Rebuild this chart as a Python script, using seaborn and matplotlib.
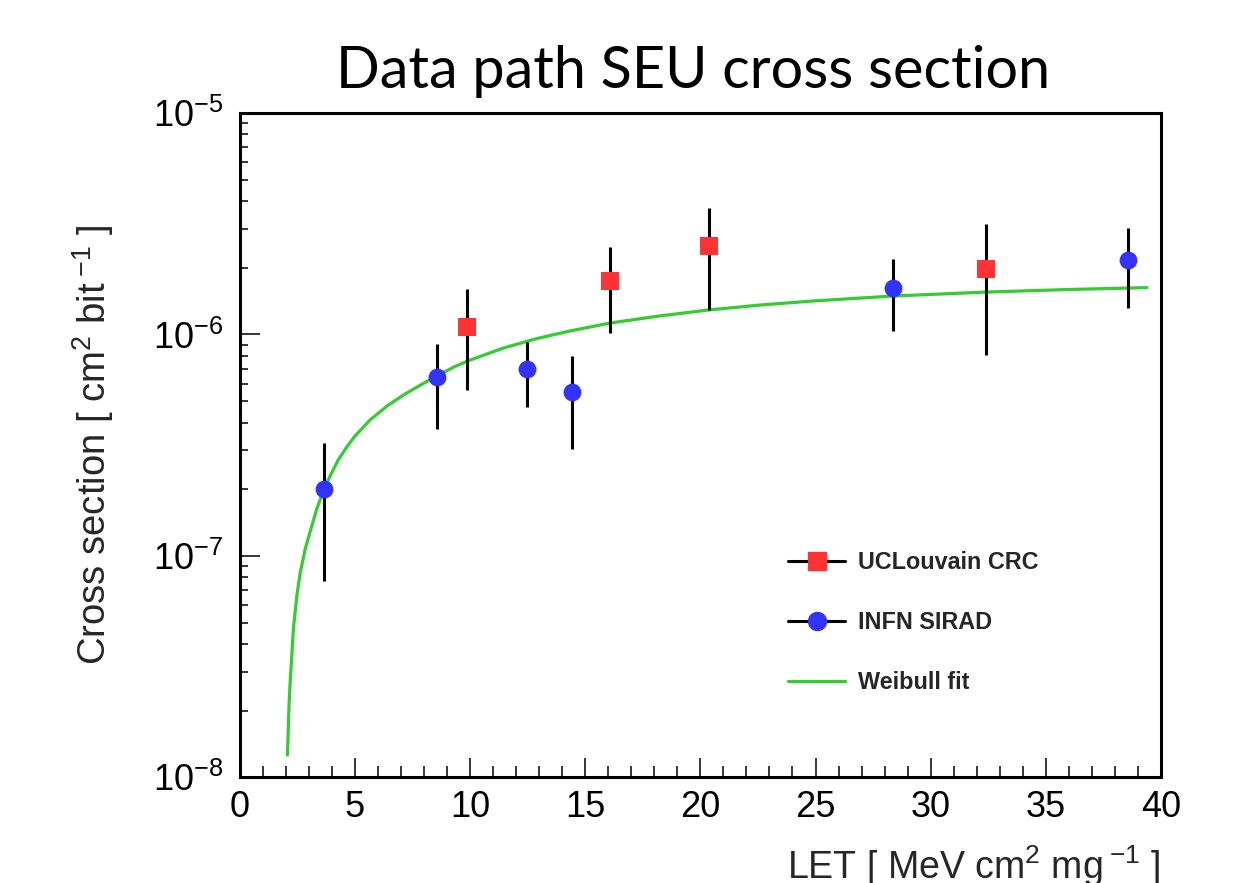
import numpy as np
import pandas as pd
import matplotlib
matplotlib.use("Agg")
import matplotlib.pyplot as plt
import seaborn as sns
from matplotlib.lines import Line2D
from matplotlib.ticker import LogLocator, MultipleLocator, NullFormatter, FixedLocator

# ---------------- data ----------------
ucl_let = [9.89, 16.08, 20.39, 32.40]
ucl_xs = [1.08e-6, 1.75e-6, 2.52e-6, 1.97e-6]
ucl_lo = [5.6e-7, 1.01e-6, 1.29e-6, 8.07e-7]
ucl_hi = [1.60e-6, 2.47e-6, 3.74e-6, 3.15e-6]

infn_let = [3.67, 8.59, 12.49, 14.42, 28.38, 38.58]
infn_xs = [2.0e-7, 6.4e-7, 6.98e-7, 5.47e-7, 1.62e-6, 2.17e-6]
infn_lo = [7.7e-8, 3.73e-7, 4.72e-7, 3.03e-7, 1.04e-6, 1.32e-6]
infn_hi = [3.22e-7, 9.1e-7, 9.27e-7, 8.0e-7, 2.19e-6, 3.02e-6]

# points
fit_let = [2.08, 2.15, 2.19, 2.34, 2.48, 2.63, 2.85, 3.06, 3.35, 3.64, 3.95,
           4.28, 4.65, 5.01, 5.66, 6.4, 7.11, 7.85, 8.56, 9.3, 10.0, 11.45,
           12.9, 14.33, 16.08, 18.2, 20.33, 22.6, 24.88, 28.36, 32.44, 35.9, 39.39]
fit_xs = [1.26e-8, 2.14e-8, 2.61e-8, 4.72e-8, 6.52e-8, 8.36e-8, 1.073e-7,
          1.281e-7, 1.627e-7, 1.962e-7, 2.317e-7, 2.708e-7, 3.10e-7, 3.476e-7,
          4.105e-7, 4.748e-7, 5.323e-7, 5.906e-7, 6.49e-7, 7.126e-7, 7.66e-7,
          8.68e-7, 9.58e-7, 1.036e-6, 1.126e-6, 1.211e-6, 1.289e-6, 1.358e-6,
          1.416e-6, 1.491e-6, 1.554e-6, 1.595e-6, 1.628e-6]

series_labels = ["UCLouvain CRC", "INFN SIRAD", "Weibull fit"]
x_ticks = [0, 5, 10, 15, 20, 25, 30, 35, 40]

title_text = "Data path SEU cross section"
xlabel_text = r"LET [ MeV cm$^{2}$ mg$\,^{-1}$ ]"
ylabel_text = r"Cross section [ cm$^{2}$ bit$\,^{-1}$ ]"

# ---------------- style ----------------
sns.set_theme(style="ticks")
plt.rcParams["font.family"] = ["Liberation Sans", "DejaVu Sans"]
plt.rcParams["mathtext.default"] = "regular"
plt.rcParams["axes.unicode_minus"] = False

RED = "#ff3333"
BLUE = "#3333ff"
GREEN = "#33cc33"

fig = plt.figure(figsize=(12.45, 8.83), dpi=100)
fig.patch.set_facecolor("white")
ax = fig.add_axes([0.1924, 0.1197, 0.7402, 0.7523])
ax.set_facecolor("white")

# fit curve
fit_df = pd.DataFrame({"LET": fit_let, "xs": fit_xs})
sns.lineplot(data=fit_df, x="LET", y="xs", ax=ax, color=GREEN, lw=2.3,
             sort=False, zorder=2, legend=False)

# error bars
ax.vlines(ucl_let, ucl_lo, ucl_hi, color="black", lw=2.2, zorder=3)
ax.vlines(infn_let, infn_lo, infn_hi, color="black", lw=2.2, zorder=3)

# markers
ucl_df = pd.DataFrame({"LET": ucl_let, "xs": ucl_xs})
infn_df = pd.DataFrame({"LET": infn_let, "xs": infn_xs})
sns.scatterplot(data=ucl_df, x="LET", y="xs", ax=ax, marker="s", s=165,
                color=RED, edgecolor=RED, linewidth=0, zorder=4, legend=False)
sns.scatterplot(data=infn_df, x="LET", y="xs", ax=ax, marker="o", s=165,
                color=BLUE, edgecolor=BLUE, linewidth=0, zorder=4, legend=False)

ax.set_yscale("log")
ax.set_xlim(0, 40)
ax.set_ylim(1e-8, 1e-5)

ax.xaxis.set_major_locator(FixedLocator(x_ticks))
ax.xaxis.set_minor_locator(MultipleLocator(1))
ax.yaxis.set_major_locator(LogLocator(base=10, numticks=10))
ax.yaxis.set_minor_locator(LogLocator(base=10, subs=np.arange(2, 10), numticks=50))
ax.yaxis.set_minor_formatter(NullFormatter())

for sp in ax.spines.values():
    sp.set_visible(True)
    sp.set_linewidth(2.2)
    sp.set_color("black")

ax.tick_params(axis="both", which="both", direction="in", colors="black",
               top=False, right=False, width=1.1)
ax.tick_params(axis="x", which="major", length=13.7, pad=9.5, labelsize=26)
ax.tick_params(axis="x", which="minor", length=7.7)
ax.tick_params(axis="y", which="major", length=14.4, pad=12, labelsize=26)
ax.tick_params(axis="y", which="minor", length=6.0)

ax.set_xlabel(xlabel_text, fontsize=27, ha="right")
ax.xaxis.set_label_coords(1.0, -0.099)
ax.set_ylabel(ylabel_text, fontsize=27.5)
ax.yaxis.set_label_coords(-0.134, 0.5)

fig.text(693 / 1245, 1 - 88 / 883, title_text, ha="center", va="baseline",
         fontsize=41.5, family=["Lato", "DejaVu Sans"], color="black")

handles = [
    Line2D([], [], color="black", lw=2.2, marker="s", markersize=13,
           markerfacecolor=RED, markeredgecolor=RED),
    Line2D([], [], color="black", lw=2.2, marker="o", markersize=13,
           markerfacecolor=BLUE, markeredgecolor=BLUE),
    Line2D([], [], color=GREEN, lw=2.3),
]
leg = ax.legend(handles, series_labels, loc="upper left",
                bbox_to_anchor=(0.595, 0.341), frameon=False, borderpad=0,
                borderaxespad=0, handlelength=2.46, handletextpad=0.56,
                labelspacing=1.59, prop={"weight": "bold", "size": 16.8})

sns.despine(ax=ax, top=False, right=False)
fig.savefig("out.png", dpi=100, facecolor="white")
